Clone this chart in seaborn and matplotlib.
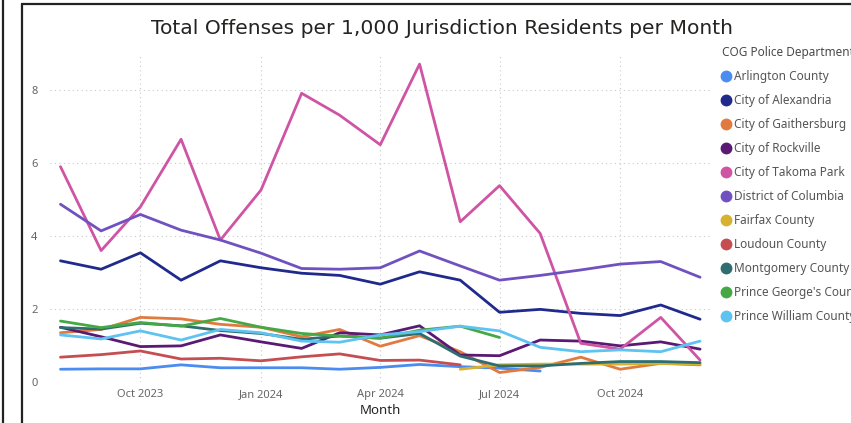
import numpy as np
import pandas as pd
import matplotlib
matplotlib.use("Agg")
import matplotlib.pyplot as plt
from matplotlib.lines import Line2D
import seaborn as sns

months = ["2023-08", "2023-09", "2023-10", "2023-11", "2023-12",
          "2024-01", "2024-02", "2024-03", "2024-04", "2024-05", "2024-06",
          "2024-07", "2024-08", "2024-09", "2024-10", "2024-11", "2024-12"]

arlington = [0.35, 0.36, 0.36, 0.47, 0.39, 0.39, 0.39, 0.35, 0.40, 0.48, 0.42, 0.38, 0.30,
             None, None, None, None]
alexandria = [3.32, 3.09, 3.54, 2.79, 3.32, 3.13, 2.98, 2.92, 2.68, 3.02, 2.79,
              1.91, 1.99, 1.88, 1.82, 2.11, 1.72]
gaithersburg = [1.35, 1.44, 1.77, 1.73, 1.58, 1.50, 1.24, 1.44, 0.98, 1.27, 0.83,
                0.26, 0.40, 0.68, 0.35, 0.51, 0.47]
rockville = [1.50, 1.24, 0.97, 0.99, 1.29, 1.10, 0.92, 1.35, 1.29, 1.54, 0.74,
             0.72, 1.15, 1.12, 0.99, 1.10, 0.90]
takoma = [5.90, 3.60, 4.80, 6.65, 3.89, 5.26, 7.91, 7.31, 6.50, 8.71, 4.39,
          5.38, 4.07, 1.06, 0.90, 1.77, 0.60]
dc = [4.87, 4.14, 4.59, 4.16, 3.89, 3.53, 3.11, 3.09, 3.13, 3.59, 3.18,
      2.79, 2.92, 3.07, 3.23, 3.30, 2.87]
fairfax = [None, None, None, None, None, None, None, None, None, None, 0.35,
           0.47, 0.49, 0.49, 0.49, 0.51, 0.49]
loudoun = [0.68, 0.75, 0.85, 0.63, 0.65, 0.58, 0.69, 0.77, 0.59, 0.60, 0.47,
           None, None, None, None, None, None]
montgomery = [1.49, 1.45, 1.61, 1.54, 1.41, 1.33, 1.17, 1.26, 1.20, 1.33, 0.71,
              0.44, 0.44, 0.51, 0.56, 0.56, 0.53]
prince_george = [1.67, 1.49, 1.63, 1.53, 1.74, 1.50, 1.33, 1.26, 1.20, 1.42, 1.53,
                 1.22, None, None, None, None, None]
prince_william = [1.29, 1.18, 1.40, 1.15, 1.44, 1.35, 1.12, 1.09, 1.29, 1.38, 1.53,
                  1.40, 0.95, 0.83, 0.88, 0.83, 1.12]

departments = ["Arlington County", "City of Alexandria", "City of Gaithersburg",
               "City of Rockville", "City of Takoma Park", "District of Columbia",
               "Fairfax County", "Loudoun County", "Montgomery County",
               "Prince George's County", "Prince William County"]
series = [arlington, alexandria, gaithersburg, rockville, takoma, dc,
          fairfax, loudoun, montgomery, prince_george, prince_william]
colors = ["#4A8CF0", "#1F2A8C", "#E07A3F", "#5A1A74", "#CF54A4", "#6F52C0",
          "#D6B22E", "#C44E52", "#2E6E70", "#45A845", "#5EC3F0"]

y_ticks = [0, 2, 4, 6, 8]
x_ticks = ["2023-10", "2024-01", "2024-04", "2024-07", "2024-10"]

title = "Total Offenses per 1,000 Jurisdiction Residents per Month"
legend_title = "COG Police Department"

rows = []
for dep, vals in zip(departments, series):
    for m, v in zip(months, vals):
        if v is not None:
            rows.append({"Month": pd.Timestamp(m + "-01"), "Department": dep, "Value": v})
df = pd.DataFrame(rows)

sns.set_theme(style="white")
plt.rcParams["font.family"] = ["Noto Sans", "DejaVu Sans"]

W, H = 851, 423
fig = plt.figure(figsize=(W / 100, H / 100), dpi=100)
ax = fig.add_axes([50 / W, (H - 382) / H, 660 / W, (382 - 53.5) / H])

sns.lineplot(data=df, x="Month", y="Value", hue="Department",
             palette=dict(zip(departments, colors)), hue_order=departments,
             linewidth=2.0, ax=ax, legend=False, estimator=None)

ax.set_xlim(pd.Timestamp("2023-07-24"), pd.Timestamp("2024-12-08 14:00"))
ax.set_ylim(0, 9)
ax.set_yticks(y_ticks)
ax.set_yticklabels([str(t) for t in y_ticks])
tick_dates = [pd.Timestamp(t + "-01") for t in x_ticks]
ax.set_xticks(tick_dates)
ax.set_xticklabels([d.strftime("%b %Y") for d in tick_dates])
ax.grid(True, axis="both", color="#C8C8C8", linestyle=(0, (1, 3)), linewidth=0.8)
for s in ax.spines.values():
    s.set_visible(False)
ax.tick_params(axis="both", length=0, colors="#666666", labelsize=8)
ax.tick_params(axis="y", pad=9)
ax.tick_params(axis="x", pad=5)
ax.set_xlabel("Month", fontsize=9.5, color="#252423", fontweight="semibold", labelpad=3)
ax.set_ylabel("")

fig.text(442 / W, 1 - 28 / H, title, ha="center", va="center", fontsize=14.6,
         color="#252423", family=["DejaVu Sans"])

handles = [Line2D([], [], marker="o", linestyle="none", markersize=7.5,
                  markerfacecolor=c, markeredgecolor=c) for c in colors]
leg = fig.legend(handles, departments, title=legend_title, loc="upper left",
                 bbox_to_anchor=(722 / W, 1 - 46 / H), frameon=False,
                 fontsize=8.5, title_fontsize=8.5, handlelength=0.7,
                 handletextpad=0.3, labelspacing=0.93, alignment="left",
                 borderaxespad=0, borderpad=0)
for t in leg.get_texts():
    t.set_color("#555555")
leg.get_title().set_fontweight("bold")
leg.get_title().set_color("#4A4A4A")

# screenshot frame
fig.add_artist(Line2D([21.5 / W, 21.5 / W], [0, 1 - 4 / H], color="#222222", linewidth=1.6,
                      transform=fig.transFigure))
fig.add_artist(Line2D([21.5 / W, 1.0], [1 - 4 / H, 1 - 4 / H], color="#222222", linewidth=1.6,
                      transform=fig.transFigure))
fig.add_artist(Line2D([2.5 / W, 2.5 / W], [0, 1], color="#222222", linewidth=1.6,
                      transform=fig.transFigure))

fig.savefig("out.png", dpi=100)
